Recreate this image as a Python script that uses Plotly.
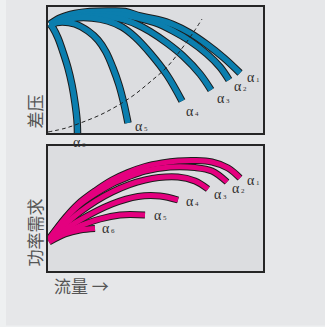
import plotly.graph_objects as go

W, H = 325, 327

# ---- Top panel: differential pressure vs flow (units: panel pixels) ----
p_labels = ["1", "2", "3", "4", "5", "6"]
p_x = [
    [2, 12, 27, 42, 62, 77, 92, 109, 125, 142, 159, 176, 192],
    [2, 12, 27, 42, 62, 77, 92, 108, 125, 142, 159, 172, 181],
    [2, 14, 30, 47, 62, 77, 90, 102, 119, 135, 152, 163],
    [2, 12, 27, 44, 60, 74, 87, 102, 119, 134],
    [2, 14, 27, 40, 50, 58, 65, 71, 76, 80],
    [2, 5, 10, 15, 20, 24, 27, 29, 29.5],
]
p_y = [
    [109, 115, 119.5, 121.5, 122, 121.5, 117, 113.5, 108.5, 100, 88.5, 75, 60],
    [108, 113, 117, 118.5, 119, 118, 114.5, 110, 102, 92, 79, 66, 53],
    [108, 113, 116, 117, 116, 113, 108, 101.5, 90, 77, 59, 43],
    [108, 112, 115, 115, 112, 106, 96, 80, 58, 32],
    [109, 111, 109, 102, 93, 81, 65, 48, 29, 10],
    [109, 105, 95, 81, 65, 48, 30, 13, 0],
]
p_lab_shift = [(5, -4), (3, -6), (4, -8), (2, -10), (5, -3), (-7, -9)]

sys_x = [0, 18, 35, 52, 69, 86, 102, 119, 135, 147, 154]
sys_y = [1, 5, 11, 18, 27, 38, 51, 66, 86, 103, 114]

# ---- Bottom panel: power demand vs flow ----
w_x = [
    [1, 17, 30, 47, 64, 80, 97, 114, 130, 147, 164, 180, 192],
    [1, 17, 30, 47, 64, 80, 97, 122, 147, 164, 179],
    [1, 32, 64, 97, 130, 147, 160],
    [1, 32, 64, 90, 112, 130],
    [1, 27, 52, 72, 97],
    [1, 17, 32, 47],
]
w_y = [
    [32, 53, 67, 80, 91, 98.5, 104.5, 108, 110, 110.5, 109, 103, 93],
    [32, 52, 65, 77, 87, 94, 100, 104, 103.5, 100, 89],
    [31, 59, 79, 91, 94, 90, 82],
    [31, 51, 67, 74.5, 75, 71],
    [30, 43, 52, 56, 56],
    [29, 37, 41, 42.5],
]
w_lab_shift = [(5, -3), (3, -7), (4, -6), (6, -2), (7, -1), (5, 0)]

BLUE = "#0b7eae"
MAGENTA = "#e4007f"
EDGE = "#1c1c1c"

fig = go.Figure()

def add_band(xs_list, ys_list, color, width, xa, ya):
    for xs, ys in zip(xs_list, ys_list):
        fig.add_trace(go.Scatter(x=xs, y=ys, mode="lines", xaxis=xa, yaxis=ya,
                                 line=dict(color=EDGE, width=width + 2, shape="spline"),
                                 hoverinfo="skip", showlegend=False))
    for xs, ys in zip(xs_list, ys_list):
        fig.add_trace(go.Scatter(x=xs, y=ys, mode="lines", xaxis=xa, yaxis=ya,
                                 line=dict(color=color, width=width, shape="spline"),
                                 hoverinfo="skip", showlegend=False))

add_band(p_x, p_y, BLUE, 5.5, "x", "y")
fig.add_trace(go.Scatter(x=sys_x, y=sys_y, mode="lines", xaxis="x", yaxis="y",
                         line=dict(color="#222222", width=1, dash="4px,3px", shape="spline"),
                         hoverinfo="skip", showlegend=False))
add_band(w_x, w_y, MAGENTA, 5, "x2", "y2")

annotations = []

def alpha_text(n):
    return "α<span style='font-size:7px'> " + n + "</span>"

afont = dict(family="Liberation Serif", size=14, color="#2e2e2e")
for lab, xs, ys, (dx, dy) in zip(p_labels, p_x, p_y, p_lab_shift):
    annotations.append(dict(x=xs[-1], y=ys[-1], xref="x", yref="y", text=alpha_text(lab),
                            showarrow=False, xanchor="left", yanchor="middle",
                            xshift=dx, yshift=dy, font=afont))
for lab, xs, ys, (dx, dy) in zip(p_labels, w_x, w_y, w_lab_shift):
    annotations.append(dict(x=xs[-1], y=ys[-1], xref="x2", yref="y2", text=alpha_text(lab),
                            showarrow=False, xanchor="left", yanchor="middle",
                            xshift=dx, yshift=dy, font=afont))

cjk = dict(family="Noto Sans CJK SC", size=17, color="#555555")
annotations.append(dict(x=33.5 / W, y=(H - 112) / H, xref="paper", yref="paper", text="差压",
                        textangle=-90, showarrow=False, xanchor="center", yanchor="middle", font=cjk))
annotations.append(dict(x=33.5 / W, y=(H - 233) / H, xref="paper", yref="paper", text="功率需求",
                        textangle=-90, showarrow=False, xanchor="center", yanchor="middle", font=cjk))
annotations.append(dict(x=52 / W, y=(H - 285) / H, xref="paper", yref="paper", text="流量 →",
                        showarrow=False, xanchor="left", yanchor="middle", font=cjk))

ax_common = dict(showticklabels=False, showgrid=False, zeroline=False, ticks="",
                 showline=True, mirror=True, linecolor="#262626", linewidth=1.5, fixedrange=True)

LIGHT = "#eef0f1"
fig.update_layout(
    width=W, height=H, margin=dict(l=0, r=0, t=0, b=0),
    paper_bgcolor="#e6e7e9", plot_bgcolor="#dcdde0",
    xaxis=dict(domain=[48 / W, 263 / W], range=[0, 215], **ax_common),
    yaxis=dict(domain=[(H - 133) / H, (H - 7) / H], range=[0, 126], **ax_common),
    xaxis2=dict(domain=[48 / W, 263 / W], range=[0, 215], anchor="y2", **ax_common),
    yaxis2=dict(domain=[(H - 271) / H, (H - 146) / H], range=[0, 125], anchor="x2", **ax_common),
    annotations=annotations,
    shapes=[
        dict(type="rect", xref="paper", yref="paper", x0=0, x1=6 / W, y0=0, y1=1,
             fillcolor=LIGHT, line=dict(width=0), layer="below"),
        dict(type="rect", xref="paper", yref="paper", x0=0, x1=1, y0=0, y1=1.5 / H,
             fillcolor=LIGHT, line=dict(width=0), layer="below"),
    ],
)

fig.write_html("out.html")
